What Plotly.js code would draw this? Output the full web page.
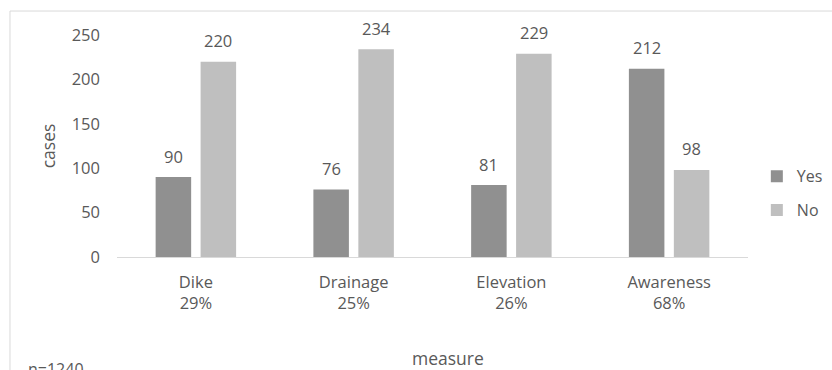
<!DOCTYPE html>
<html>
<head>
<meta charset="utf-8">
<script src="https://cdn.plot.ly/plotly-3.0.1.min.js"></script>
<style>html,body{margin:0;padding:0;background:#fff;}#chart{width:832px;height:370px;}</style>
</head>
<body>
<div id="chart"></div>
<script>
var categories = ["Dike<br>29%", "Drainage<br>25%", "Elevation<br>26%", "Awareness<br>68%"];
var yesValues = [90, 76, 81, 212];
var noValues = [220, 234, 229, 98];
var seriesNames = ["Yes", "No"];
var yTicks = [0, 50, 100, 150, 200, 250];

var font = "'Open Sans', sans-serif";
var textColor = "#595959";

var traces = [
  {type: "bar", name: seriesNames[0], x: categories, y: yesValues,
   marker: {color: "#909090"}, legendgroup: "a", hoverinfo: "none"},
  {type: "bar", name: seriesNames[1], x: categories, y: noValues,
   marker: {color: "#bfbfbf"}, legendgroup: "b", hoverinfo: "none"}
];

var annotations = [];
[yesValues, noValues].forEach(function (vals, s) {
  vals.forEach(function (v, i) {
    annotations.push({x: categories[i], y: v, xref: "x", yref: "y", text: String(v),
      showarrow: false, xshift: s === 0 ? -22.5 : 22.5, yshift: 21, yanchor: "middle",
      font: {family: font, size: 16.5, color: textColor}});
  });
});
annotations.push({text: "measure", xref: "paper", yref: "paper", x: 0.524, y: -0.455,
  xanchor: "center", yanchor: "middle", showarrow: false,
  font: {family: font, size: 17.5, color: textColor}});
annotations.push({text: "n=1240", xref: "paper", yref: "paper", x: -0.145, y: -0.505,
  xanchor: "left", yanchor: "middle", showarrow: false,
  font: {family: font, size: 16, color: textColor}});

var layout = {
  width: 832, height: 370,
  margin: {l: 117, r: 84, t: 35, b: 113, autoexpand: false},
  paper_bgcolor: "#ffffff", plot_bgcolor: "#ffffff",
  font: {family: font, size: 16.5, color: textColor},
  barmode: "group", bargap: 0.43, bargroupgap: 0.21,
  xaxis: {showline: true, linecolor: "#d9d9d9", linewidth: 1, ticks: "",
    showgrid: false, zeroline: false, ticklabelstandoff: 10, automargin: false,
    tickfont: {family: font, size: 16.5, color: textColor}},
  yaxis: {range: [0, 250], tickvals: yTicks, ticktext: yTicks.map(String),
    showgrid: false, zeroline: false, showline: false, ticks: "",
    ticklabelstandoff: 16, automargin: false,
    tickfont: {family: font, size: 16.5, color: textColor},
    title: {text: "cases", standoff: 11, font: {family: font, size: 17.5, color: textColor}}},
  showlegend: true,
  legend: {x: 1.014, xanchor: "left", y: 0.44, yanchor: "top", traceorder: "grouped",
    tracegroupgap: 10, bgcolor: "rgba(0,0,0,0)",
    font: {family: font, size: 16, color: textColor}},
  annotations: annotations,
  shapes: [{type: "rect", xref: "paper", yref: "paper", x0: -0.1696, x1: 1.3, y0: -0.7, y1: 1.108,
    line: {color: "#d9d9d9", width: 1}, fillcolor: "rgba(0,0,0,0)", layer: "below"}]
};

Plotly.newPlot("chart", traces, layout, {displayModeBar: false, staticPlot: true});
</script>
</body>
</html>
